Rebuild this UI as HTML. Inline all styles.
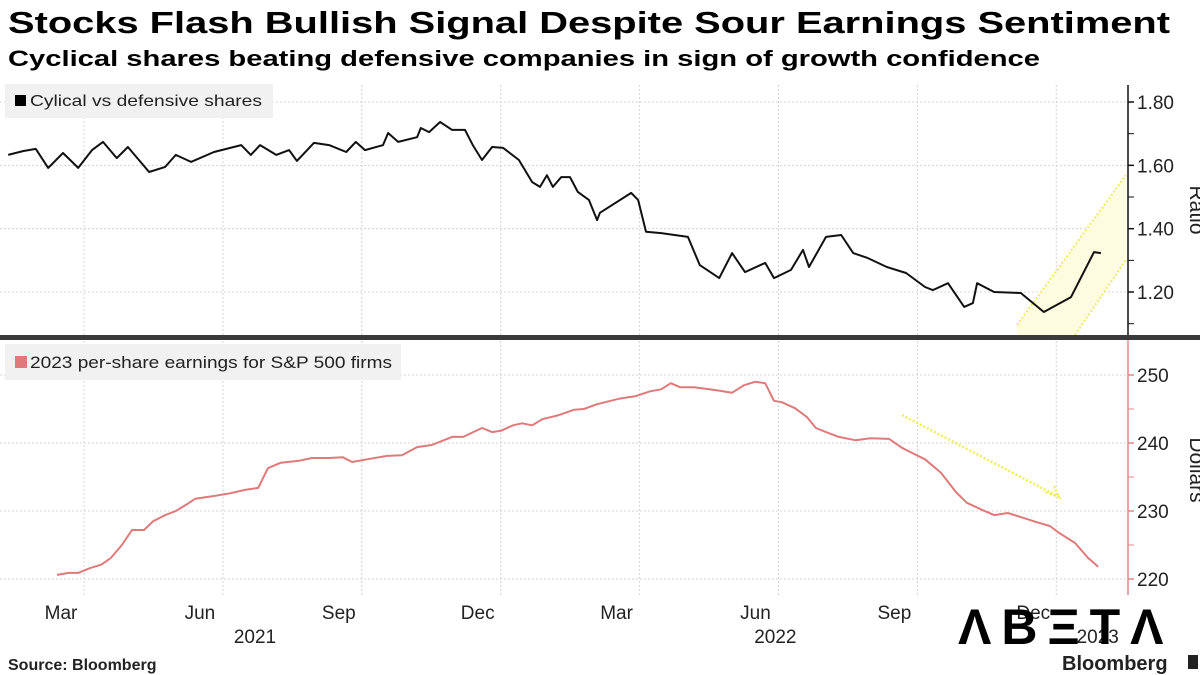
<!DOCTYPE html>
<html><head><meta charset="utf-8">
<style>
body{margin:0;width:1200px;height:675px;background:#fff;overflow:hidden;font-family:"Liberation Sans",sans-serif;}
svg{position:absolute;left:0;top:0}
</style></head>
<body>
<svg width="1200" height="675" xmlns="http://www.w3.org/2000/svg">
<text x="8" y="33" font-size="31" font-weight="bold" fill="#000" textLength="1162" lengthAdjust="spacingAndGlyphs">Stocks Flash Bullish Signal Despite Sour Earnings Sentiment</text>
<text x="8" y="66" font-size="22.5" font-weight="bold" fill="#000" textLength="1032" lengthAdjust="spacingAndGlyphs">Cyclical shares beating defensive companies in sign of growth confidence</text>
<g id="grid"></g>
<polygon id="channel" fill="#fdfbe0"/>
<line id="chU" stroke="#f0ea70" stroke-width="2" stroke-dasharray="2,2"/>
<line id="chL" stroke="#f0ea70" stroke-width="2" stroke-dasharray="2,2"/>
<g id="marks"></g>
<rect x="0" y="335" width="1200" height="5" fill="#3a3a3a"/>
<rect x="5" y="84" width="268" height="34" fill="#f1f1f1"/>
<rect x="15" y="95" width="11" height="11" fill="#000"/>
<text x="30" y="106" font-size="16" fill="#222" textLength="232" lengthAdjust="spacingAndGlyphs">Cylical vs defensive shares</text>
<rect x="5" y="344" width="396" height="36" fill="#f1f1f1"/>
<rect x="15" y="356" width="12" height="12" fill="#e07a7a"/>
<text x="30" y="368" font-size="17" fill="#222" textLength="362" lengthAdjust="spacingAndGlyphs">2023 per-share earnings for S&amp;P 500 firms</text>
<line x1="902" y1="415" x2="1057" y2="496" stroke="#f2ee50" stroke-width="2.5" stroke-dasharray="2,2"/>
<polyline points="1046,492 1059,497 1053,484" fill="none" stroke="#f2ee50" stroke-width="2.5" stroke-dasharray="2,2"/>
<line x1="1128" y1="85" x2="1128" y2="335" stroke="#111" stroke-width="1.5"/>
<line x1="1128" y1="340" x2="1128" y2="595" stroke="#d88" stroke-width="1.5"/>
<g id="axes"></g>
<text transform="translate(1190,210) rotate(90)" text-anchor="middle" font-size="21" fill="#222">Ratio</text>
<text transform="translate(1190,470) rotate(90)" text-anchor="middle" font-size="21" fill="#222">Dollars</text>
<text x="8" y="670" font-size="16" font-weight="bold" fill="#222">Source: Bloomberg</text>
<text x="1062" y="670" font-size="20" font-weight="bold" fill="#222">Bloomberg</text>
<rect x="1188" y="655" width="10" height="14" fill="#222"/>
<text x="958" y="644" font-size="50" font-weight="bold" fill="#000" letter-spacing="10">ΛBΞTΛ</text>
</svg>
<script>
const topMonths=[0.44,0.76,1.04,1.31,1.63,1.96,2.26,2.50,2.80,3.04,3.50,3.85,4.08,4.41,4.91,5.50,5.71,5.91,6.26,6.54,6.71,7.08,7.41,7.78,7.99,8.19,8.58,8.69,8.91,9.32,9.40,9.58,9.82,10.08,10.36,10.53,10.73,10.95,11.19,11.53,11.82,11.99,12.14,12.27,12.45,12.64,12.81,13.05,13.23,13.29,13.97,14.12,14.29,14.62,15.20,15.46,15.88,16.16,16.44,16.88,17.07,17.44,17.70,17.83,18.20,18.53,18.79,19.11,19.52,19.94,20.35,20.52,20.85,21.20,21.39,21.48,21.85,22.43,22.93,23.52,24.02,24.17];
const topValues=[1.633,1.645,1.652,1.592,1.639,1.592,1.648,1.674,1.623,1.658,1.579,1.595,1.633,1.611,1.642,1.664,1.633,1.664,1.633,1.648,1.614,1.671,1.664,1.642,1.674,1.648,1.664,1.702,1.674,1.689,1.718,1.705,1.737,1.712,1.712,1.664,1.617,1.658,1.655,1.617,1.547,1.532,1.569,1.532,1.563,1.563,1.516,1.491,1.427,1.450,1.513,1.491,1.390,1.386,1.374,1.285,1.244,1.323,1.263,1.292,1.244,1.270,1.333,1.279,1.374,1.380,1.323,1.307,1.279,1.260,1.216,1.206,1.228,1.153,1.165,1.228,1.200,1.197,1.137,1.184,1.326,1.323];
const epsMonths=[1.50,1.76,1.96,2.22,2.46,2.67,2.91,3.13,3.39,3.59,3.85,4.08,4.30,4.50,4.91,5.26,5.58,5.87,6.08,6.36,6.76,7.04,7.41,7.71,7.91,8.23,8.67,8.99,9.32,9.64,10.08,10.32,10.73,10.95,11.14,11.40,11.60,11.82,12.04,12.40,12.73,12.94,13.23,13.70,14.07,14.38,14.62,14.83,15.03,15.33,15.79,16.16,16.42,16.66,16.88,17.07,17.24,17.53,17.79,17.98,18.20,18.48,18.85,19.16,19.57,19.85,20.11,20.35,20.70,21.02,21.26,21.61,21.85,22.15,22.43,22.76,23.06,23.26,23.61,23.89,24.11];
const epsValues=[220.6,220.9,220.9,221.6,222.1,223.1,225.0,227.2,227.2,228.5,229.4,230.0,230.9,231.8,232.2,232.6,233.1,233.4,236.3,237.1,237.4,237.8,237.8,237.9,237.2,237.6,238.1,238.2,239.4,239.7,240.9,240.9,242.2,241.6,241.8,242.6,242.9,242.6,243.5,244.1,244.9,245.0,245.7,246.5,246.9,247.6,247.9,248.8,248.2,248.2,247.8,247.4,248.5,249.0,248.8,246.2,246.0,245.1,243.8,242.2,241.6,240.9,240.4,240.7,240.6,239.3,238.4,237.6,235.6,232.8,231.2,230.1,229.4,229.7,229.1,228.4,227.8,226.8,225.3,223.1,221.8];
const monthTicks=[2,5,8,11,14,17,20,23];
const monthLabels=["Mar","Jun","Sep","Dec","Mar","Jun","Sep","Dec"];
const yearTicks=[5.8,17.1,24.1];
const yearLabels=["2021","2022","2023"];
const topTicks=[1.8,1.6,1.4,1.2];
const topMinor=[1.7,1.5,1.3,1.1];
const epsTicks=[250,240,230,220];
const epsMinor=[245,235,225];

const NS="http://www.w3.org/2000/svg";
const xS=m=>80+(m-2)*46.05;
const xG=m=>84+(m-2)*46.3;
const yTop=v=>102+(1.8-v)*316.7;
const yEps=v=>375+(250-v)*6.8;
function mk(tag,attrs,parent,text){const e=document.createElementNS(NS,tag);for(const k in attrs)e.setAttribute(k,attrs[k]);if(text!=null)e.textContent=text;document.getElementById(parent).appendChild(e);return e;}

monthTicks.forEach((m,i)=>{
  let g=mk('line',{x1:xG(m),x2:xG(m),y1:85,y2:595,stroke:'#d4d4d4','stroke-dasharray':'2,2'},'grid');
  
  
  let t=mk('text',{x:xG(m)-23,y:619,'text-anchor':'middle','font-size':19,fill:'#222'},'axes',monthLabels[i]);
  
  
});
yearTicks.forEach((m,i)=>{
  let t=mk('text',{x:xS(m),y:643,'text-anchor':'middle','font-size':19,fill:'#222'},'axes',yearLabels[i]);
  
  
});
topTicks.forEach(v=>{
  let g=mk('line',{x1:0,x2:1128,y1:yTop(v),y2:yTop(v),stroke:'#d4d4d4','stroke-dasharray':'2,2'},'grid');
  
  
  mk('line',{x1:1128,x2:1134,y1:yTop(v),y2:yTop(v),stroke:'#111','stroke-width':1.5},'axes');
  let t=mk('text',{x:1137,y:yTop(v)+7,'font-size':19,fill:'#222'},'axes',v.toFixed(2));
  
  
});
topMinor.forEach(v=>{mk('line',{x1:1128,x2:1134,y1:yTop(v),y2:yTop(v),stroke:'#111'},'axes');});
epsTicks.forEach(v=>{
  let g=mk('line',{x1:0,x2:1128,y1:yEps(v),y2:yEps(v),stroke:'#d4d4d4','stroke-dasharray':'2,2'},'grid');
  
  
  mk('line',{x1:1128,x2:1134,y1:yEps(v),y2:yEps(v),stroke:'#d88','stroke-width':1.5},'axes');
  let t=mk('text',{x:1137,y:yEps(v)+7,'font-size':19,fill:'#222'},'axes',String(v));
  
  
});
epsMinor.forEach(v=>{mk('line',{x1:1128,x2:1134,y1:yEps(v),y2:yEps(v),stroke:'#d88'},'axes');});

let p=mk('polyline',{points:topMonths.map((m,i)=>xS(m).toFixed(1)+','+yTop(topValues[i]).toFixed(1)).join(' '),fill:'none',stroke:'#111','stroke-width':2,'stroke-linejoin':'round'},'marks');


let q=mk('polyline',{points:epsMonths.map((m,i)=>xS(m).toFixed(1)+','+yEps(epsValues[i]).toFixed(1)).join(' '),fill:'none',stroke:'#e07a7a','stroke-width':2,'stroke-linejoin':'round'},'marks');



const ch=document.getElementById('channel');
ch.setAttribute('points','1017,325 1126,175 1126,260 1075,335 1017,335');
const u=document.getElementById('chU');u.setAttribute('x1',1017);u.setAttribute('y1',325);u.setAttribute('x2',1126);u.setAttribute('y2',175);
const l=document.getElementById('chL');l.setAttribute('x1',1075);l.setAttribute('y1',335);l.setAttribute('x2',1126);l.setAttribute('y2',260);
</script>
</body></html>
